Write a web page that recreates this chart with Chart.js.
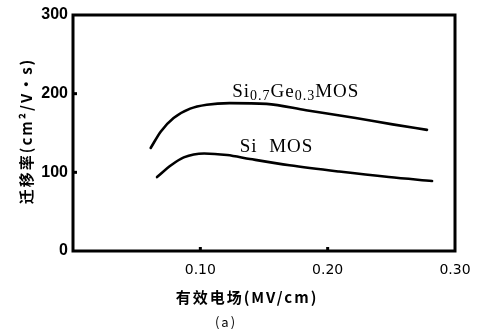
<!DOCTYPE html>
<html>
<head>
<meta charset="utf-8">
<script src="https://cdn.jsdelivr.net/npm/chart.js@4/dist/chart.umd.min.js"></script>
<style>
  html, body { margin: 0; padding: 0; background: #fff; }
  #wrap { width: 478px; height: 329px; }
</style>
</head>
<body>
<div id="wrap"><canvas id="mobilityChart" width="478" height="329"></canvas></div>
<script>
// values
const sigeX = [0.061, 0.069, 0.079, 0.092, 0.105, 0.123, 0.152, 0.183, 0.222, 0.251, 0.278];
const sigeY = [131, 152, 169, 181, 186, 188, 187, 179, 169, 161, 154];
const siX = [0.066, 0.077, 0.087, 0.103, 0.121, 0.139, 0.170, 0.209, 0.248, 0.282];
const siY = [94, 109, 119, 124, 122, 117, 109, 101, 94, 89];
const xTicks = [0.10, 0.20, 0.30];
const yTicks = [0, 100, 200, 300];
const yTitle = '迁移率(cm²/V·s)';
const xTitle = '有效电场(MV/cm)';
const caption = '(a)';

function toPoints(xs, ys) {
    return xs.map((x, i) => ({x: x, y: ys[i]}));
}

// frame, inner tick marks, titles and curve labels
const extras = {
    id: 'extras',
    afterDraw(chart) {
        const ctx = chart.ctx;
        const a = chart.chartArea;
        const xs = chart.scales.x, ys = chart.scales.y;
        ctx.save();
        ctx.strokeStyle = '#000';
        ctx.lineWidth = 3;
        ctx.strokeRect(a.left, a.top, a.right - a.left, a.bottom - a.top);

        ctx.fillStyle = '#000';
        yTicks.slice(1, 3).forEach(v => {
            ctx.fillRect(a.left, ys.getPixelForValue(v) - 1.5, 4, 3);
        });
        xTicks.slice(0, 2).forEach(v => {
            ctx.fillRect(xs.getPixelForValue(v) - 1.5, a.bottom - 4, 3, 4);
        });

        // curve labels
        ctx.textBaseline = 'alphabetic';
        ctx.textAlign = 'left';
        let px = xs.getPixelForValue(0.125), py = ys.getPixelForValue(196);
        const parts = [['Si', 0], ['0.7', 1], ['Ge', 0], ['0.3', 1], ['MOS', 0]];
        parts.forEach(p => {
            ctx.font = p[1] ? '14px "Liberation Serif"' : '19px "Liberation Serif"';
            ctx.letterSpacing = '1px';
            ctx.fillText(p[0], px, py + (p[1] ? 3 : 0));
            px += ctx.measureText(p[0]).width;
        });
        ctx.font = '19px "Liberation Serif"';
        ctx.fillText('Si  MOS', xs.getPixelForValue(0.131), ys.getPixelForValue(126));

        // axis titles
        ctx.letterSpacing = '2px';
        ctx.font = 'bold 15px "Noto Sans CJK SC"';
        ctx.textAlign = 'center';
        ctx.textBaseline = 'middle';
        ctx.fillText(xTitle, 247, 297);
        ctx.font = '13px "Noto Sans CJK SC"';
        ctx.fillText(caption, 226, 322);

        ctx.translate(26, 131);
        ctx.rotate(-Math.PI / 2);
        ctx.font = 'bold 15px "Noto Sans CJK SC"';
        ctx.fillText(yTitle, 0, 0);
        ctx.restore();
    }
};

const ctx = document.getElementById('mobilityChart').getContext('2d');
window.mobilityChart = new Chart(ctx, {
    type: 'line',
    data: {
        datasets: [
            { label: 'Si0.7Ge0.3MOS', data: toPoints(sigeX, sigeY) },
            { label: 'Si MOS', data: toPoints(siX, siY) }
        ]
    },
    options: {
        responsive: false,
        animation: false,
        layout: { padding: { left: 0, right: 23, top: 15, bottom: 0 } },
        elements: {
            line: { borderColor: '#000', borderWidth: 2.6, cubicInterpolationMode: 'monotone', borderCapStyle: 'round' },
            point: { radius: 0 }
        },
        plugins: { legend: { display: false }, tooltip: { enabled: false } },
        scales: {
            x: {
                type: 'linear',
                min: 0,
                max: 0.30,
                afterBuildTicks: s => { s.ticks = xTicks.map(v => ({value: v})); },
                afterFit: s => { s.height = 78; s.paddingRight = 0; },
                grid: { display: false, drawTicks: false },
                border: { display: false },
                ticks: {
                    color: '#000',
                    padding: 11,
                    font: { family: 'DejaVu Sans', size: 14 },
                    callback: v => v.toFixed(2)
                }
            },
            y: {
                min: 0,
                max: 300,
                afterBuildTicks: s => { s.ticks = yTicks.map(v => ({value: v})); },
                afterFit: s => { s.width = 73; },
                grid: { display: false, drawTicks: false },
                border: { display: false },
                ticks: {
                    color: '#000',
                    padding: 5,
                    font: { family: 'Liberation Sans', size: 16, weight: 'bold' }
                }
            }
        }
    },
    plugins: [extras]
});
</script>
</body>
</html>
